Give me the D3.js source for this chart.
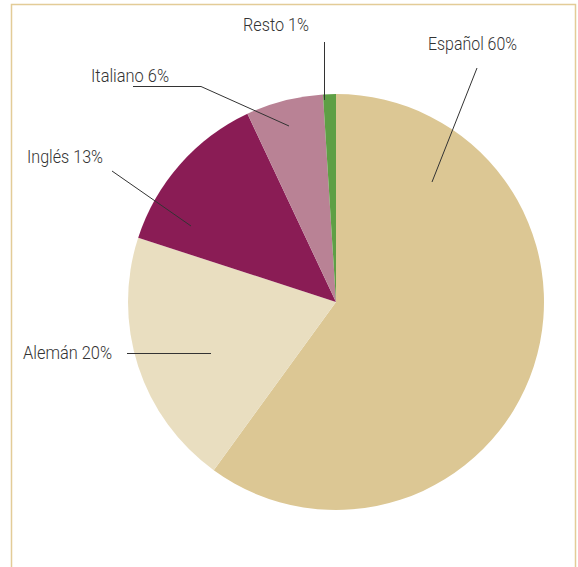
<!DOCTYPE html>
<html><head><meta charset="utf-8">
<script src="https://cdn.jsdelivr.net/npm/d3@7"></script>
<style>html,body{margin:0;padding:0;background:#fff;}</style>
</head><body>
<svg id="chart" width="578" height="567"></svg>
<script>
const categories = ["Español", "Alemán", "Inglés", "Italiano", "Resto"];
const values = [60, 20, 13, 6, 1];
const colors = ["#dcc794", "#e9dec0", "#8a1c55", "#b98295", "#5e9f45"];
const labels = ["Español 60%", "Alemán 20%", "Inglés 13%", "Italiano 6%", "Resto 1%"];

const svg = d3.select("#chart");
// frame
svg.append("path")
  .attr("d", "M11.5,600 V4.5 H575.5 V600")
  .attr("fill", "none").attr("stroke", "#e3cc97").attr("stroke-width", 1.5);

const cx = 336, cy = 302, r = 208;
const g = svg.append("g").attr("transform", `translate(${cx},${cy})`);
const pie = d3.pie().sort(null).value(d => d)(values);
const arc = d3.arc().innerRadius(0).outerRadius(r);
g.selectAll("path.slice").data(pie).enter().append("path")
  .attr("class", "slice").attr("d", arc).attr("fill", (d, i) => colors[i]);

// leader lines (page coordinates)
const leaders = [
  [[477, 68], [432, 182]],
  [[127, 353.5], [211, 353.5]],
  [[112, 171], [191, 226]],
  [[133, 86.5], [201, 86.5], [289, 126]],
  [[324.5, 42], [324.5, 100]]
];
svg.selectAll("path.leader").data(leaders).enter().append("path")
  .attr("class", "leader")
  .attr("d", d => d3.line()(d))
  .attr("fill", "none").attr("stroke", "#333").attr("stroke-width", 1);

const labelPos = [[428, 50], [23, 359], [27, 163], [91, 82], [243, 31]];
const labelW = [89, 89, 76, 78, 66];
svg.selectAll("text.lbl").data(labels).enter().append("text")
  .attr("class", "lbl")
  .attr("x", (d, i) => labelPos[i][0]).attr("y", (d, i) => labelPos[i][1])
  .attr("textLength", (d, i) => labelW[i]).attr("lengthAdjust", "spacingAndGlyphs")
  .attr("font-family", "Roboto, 'Liberation Sans', sans-serif")
  .attr("font-weight", 300)
  .attr("font-size", 18).attr("fill", "#333")
  .text(d => d);
</script>
</body></html>
